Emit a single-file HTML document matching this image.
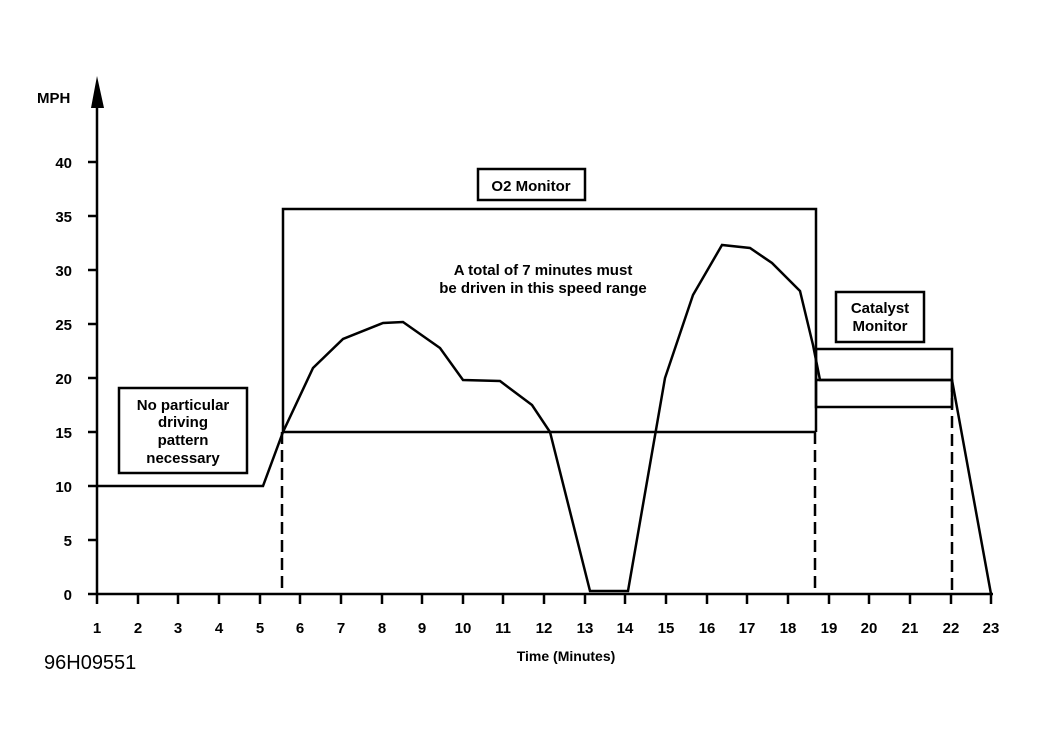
<!DOCTYPE html>
<html><head><meta charset="utf-8"><style>
html,body{margin:0;padding:0;background:#fff;}
svg text{font-family:"Liberation Sans",Arial,sans-serif;font-weight:bold;fill:#000;}
</style></head><body>
<svg width="1037" height="741" viewBox="0 0 1037 741" xmlns="http://www.w3.org/2000/svg">
<rect width="1037" height="741" fill="#fff"/>
<g stroke="#000" stroke-width="2.5" fill="none">
<line x1="97" y1="594" x2="97" y2="105"/>
<line x1="97" y1="594" x2="993" y2="594"/>
<line x1="88" y1="162" x2="97" y2="162"/>
<line x1="88" y1="216" x2="97" y2="216"/>
<line x1="88" y1="270" x2="97" y2="270"/>
<line x1="88" y1="324" x2="97" y2="324"/>
<line x1="88" y1="378" x2="97" y2="378"/>
<line x1="88" y1="432" x2="97" y2="432"/>
<line x1="88" y1="486" x2="97" y2="486"/>
<line x1="88" y1="540" x2="97" y2="540"/>
<line x1="88" y1="594" x2="97" y2="594"/>
</g>
<polygon points="97,76 91,108 104,108" fill="#000"/>
<g stroke="#000" stroke-width="2.5">
<line x1="97" y1="594" x2="97" y2="604"/><line x1="138" y1="594" x2="138" y2="604"/><line x1="178" y1="594" x2="178" y2="604"/><line x1="219" y1="594" x2="219" y2="604"/><line x1="260" y1="594" x2="260" y2="604"/><line x1="300" y1="594" x2="300" y2="604"/><line x1="341" y1="594" x2="341" y2="604"/><line x1="382" y1="594" x2="382" y2="604"/><line x1="422" y1="594" x2="422" y2="604"/><line x1="463" y1="594" x2="463" y2="604"/><line x1="503" y1="594" x2="503" y2="604"/><line x1="544" y1="594" x2="544" y2="604"/><line x1="585" y1="594" x2="585" y2="604"/><line x1="625" y1="594" x2="625" y2="604"/><line x1="666" y1="594" x2="666" y2="604"/><line x1="707" y1="594" x2="707" y2="604"/><line x1="747" y1="594" x2="747" y2="604"/><line x1="788" y1="594" x2="788" y2="604"/><line x1="829" y1="594" x2="829" y2="604"/><line x1="869" y1="594" x2="869" y2="604"/><line x1="910" y1="594" x2="910" y2="604"/><line x1="951" y1="594" x2="951" y2="604"/><line x1="991" y1="594" x2="991" y2="604"/>
</g>
<g font-size="15" text-anchor="end">
<text x="72" y="168">40</text><text x="72" y="222">35</text><text x="72" y="276">30</text><text x="72" y="330">25</text><text x="72" y="384">20</text><text x="72" y="438">15</text><text x="72" y="492">10</text><text x="72" y="546">5</text><text x="72" y="600">0</text>
</g>
<g font-size="15" text-anchor="middle">
<text x="97" y="633">1</text><text x="138" y="633">2</text><text x="178" y="633">3</text><text x="219" y="633">4</text><text x="260" y="633">5</text><text x="300" y="633">6</text><text x="341" y="633">7</text><text x="382" y="633">8</text><text x="422" y="633">9</text><text x="463" y="633">10</text><text x="503" y="633">11</text><text x="544" y="633">12</text><text x="585" y="633">13</text><text x="625" y="633">14</text><text x="666" y="633">15</text><text x="707" y="633">16</text><text x="747" y="633">17</text><text x="788" y="633">18</text><text x="829" y="633">19</text><text x="869" y="633">20</text><text x="910" y="633">21</text><text x="951" y="633">22</text><text x="991" y="633">23</text>
</g>
<text x="37" y="103" font-size="15">MPH</text>
<text x="566" y="661" font-size="14" text-anchor="middle">Time (Minutes)</text>
<text x="44" y="669" font-size="20" style="font-weight:normal">96H09551</text>
<g stroke="#000" stroke-width="2.5" fill="none">
<polyline points="283,432 283,209 816,209 816,432"/>
<line x1="283" y1="432" x2="816" y2="432"/>
<rect x="816" y="349" width="136" height="58"/>
<line x1="816" y1="380" x2="952" y2="380"/>
<polyline points="97,486 263,486 283,432 313,368 343,339 383,323 403,322 440,348 463,380 500,381 532,405 550,432 590,591 628,591 665,378 693,295 722,245 750,248 772,263 800,291 813,345 820,380 952,380 991,594"/>
</g>
<g stroke="#000" stroke-width="2.5" stroke-dasharray="12,6">
<line x1="282" y1="432" x2="282" y2="594"/>
<line x1="815" y1="432" x2="815" y2="594"/>
<line x1="952" y1="380" x2="952" y2="594"/>
</g>
<rect x="478" y="169" width="107" height="31" fill="#fff" stroke="#000" stroke-width="2.5"/>
<text x="531" y="191" font-size="15" text-anchor="middle">O2 Monitor</text>
<rect x="836" y="292" width="88" height="50" fill="#fff" stroke="#000" stroke-width="2.5"/>
<text x="880" y="313" font-size="15" text-anchor="middle">Catalyst</text>
<text x="880" y="331" font-size="15" text-anchor="middle">Monitor</text>
<rect x="119" y="388" width="128" height="85" fill="#fff" stroke="#000" stroke-width="2.5"/>
<g font-size="15" text-anchor="middle">
<text x="183" y="410">No particular</text>
<text x="183" y="427">driving</text>
<text x="183" y="445">pattern</text>
<text x="183" y="463">necessary</text>
<text x="543" y="275">A total of 7 minutes must</text>
<text x="543" y="293">be driven in this speed range</text>
</g>
</svg>
</body></html>
